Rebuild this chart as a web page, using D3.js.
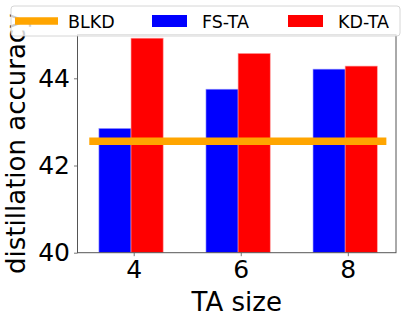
<!DOCTYPE html>
<html>
<head>
<meta charset="utf-8">
<title>distillation accuracy vs TA size</title>
<script src="https://cdn.jsdelivr.net/npm/d3@7"></script>
<style>
  body { margin: 0; background: #fff; }
  svg { display: block; font-family: "DejaVu Sans", sans-serif; }
</style>
</head>
<body>
<svg width="407" height="323"></svg>
<script>
// data
var taSizes = [4, 6, 8];
var fsTA = [42.85, 43.75, 44.21];
var kdTA = [44.92, 44.57, 44.28];
var blkd = 42.555;
var blkdSpan = [3.17, 8.72];
var yTicks = [40, 42, 44];
var seriesNames = ["BLKD", "FS-TA", "KD-TA"];
var seriesColors = ["#ffa500", "#0000ff", "#ff0000"];

var svg = d3.select("svg");
// plot box (note: "top" is taken by window.top)
var plotL = 77.5, plotR = 396, plotT = 34.7, plotB = 252.7;

var x = d3.scaleLinear().domain([2.95, 8.9]).range([plotL, plotR]);
var y = d3.scaleLinear().domain([40, 45]).range([plotB, plotT]);

var barW = 0.6;

var g = svg.append("g");

// FS-TA bars (left of tick), KD-TA bars (right of tick)
g.selectAll("rect.fs")
    .data(taSizes)
    .enter()
    .append("rect")
    .attr("class", "fs")
    .attr("x", function(d) { return x(d - 0.65); })
    .attr("width", function(d) { return x(d - 0.65 + barW) - x(d - 0.65); })
    .attr("y", function(d, i) { return y(fsTA[i]); })
    .attr("height", function(d, i) { return y(40) - y(fsTA[i]); })
    .attr("fill", seriesColors[1])
    .attr("stroke", "#9999ff")
    .attr("stroke-width", 0.6);

g.selectAll("rect.kd")
    .data(taSizes)
    .enter()
    .append("rect")
    .attr("class", "kd")
    .attr("x", function(d) { return x(d - 0.05); })
    .attr("width", function(d) { return x(d - 0.05 + barW) - x(d - 0.05); })
    .attr("y", function(d, i) { return y(kdTA[i]); })
    .attr("height", function(d, i) { return y(40) - y(kdTA[i]); })
    .attr("fill", seriesColors[2])
    .attr("stroke", "#ff9999")
    .attr("stroke-width", 0.6);

// BLKD baseline
g.append("line")
    .attr("x1", x(blkdSpan[0]))
    .attr("x2", x(blkdSpan[1]))
    .attr("y1", y(blkd))
    .attr("y2", y(blkd))
    .attr("stroke", seriesColors[0])
    .attr("stroke-width", 7.5);

// axes
var xAxis = d3.axisBottom(x).tickValues(taSizes).tickFormat(d3.format("d")).tickSize(3.5).tickPadding(4);
var yAxis = d3.axisLeft(y).tickValues(yTicks).tickFormat(d3.format("d")).tickSize(3.5).tickPadding(4);

var gx = svg.append("g").attr("transform", "translate(0," + plotB + ")").call(xAxis);
var gy = svg.append("g").attr("transform", "translate(" + plotL + ",0)").call(yAxis);

[gx, gy].forEach(function(a) {
    a.select(".domain").remove();
    a.selectAll(".tick line").attr("stroke", "#555").attr("stroke-width", 0.8);
    a.selectAll(".tick text").attr("fill", "#000").style("font-size", "25px")
        .style("font-family", "DejaVu Sans");
});

// frame
svg.append("rect")
    .attr("x", plotL).attr("y", plotT)
    .attr("width", plotR - plotL).attr("height", plotB - plotT)
    .attr("fill", "none")
    .attr("stroke", "#555")
    .attr("stroke-width", 1);

// axis labels
svg.append("text")
    .attr("x", (plotL + plotR) / 2)
    .attr("y", 311)
    .attr("text-anchor", "middle")
    .style("font-size", "26px")
    .text("TA size");

svg.append("text")
    .attr("transform", "translate(25," + ((plotT + plotB) / 2) + ") rotate(-90)")
    .attr("text-anchor", "middle")
    .style("font-size", "26px")
    .text("distillation accuracy");

// legend, drawn over the y label
var lg = svg.append("g");
lg.append("rect")
    .attr("x", 11).attr("y", 6)
    .attr("width", 389).attr("height", 30)
    .attr("rx", 3)
    .attr("fill", "#fff")
    .attr("fill-opacity", 0.8)
    .attr("stroke", "#ccc")
    .attr("stroke-width", 0.8);

var itemX = [15, 152, 288];

lg.append("line")
    .attr("x1", itemX[0]).attr("x2", itemX[0] + 43)
    .attr("y1", 21).attr("y2", 21)
    .attr("stroke", seriesColors[0])
    .attr("stroke-width", 7.5);

[1, 2].forEach(function(k) {
    lg.append("rect")
        .attr("x", itemX[k]).attr("y", 15)
        .attr("width", 35).attr("height", 12)
        .attr("fill", seriesColors[k]);
});

lg.selectAll("text.leg")
    .data(seriesNames)
    .enter()
    .append("text")
    .attr("class", "leg")
    .attr("x", function(d, i) { return itemX[i] + (i == 0 ? 53 : 50); })
    .attr("y", 27.5)
    .style("font-size", "17.5px")
    .text(function(d) { return d; });
</script>
</body>
</html>
